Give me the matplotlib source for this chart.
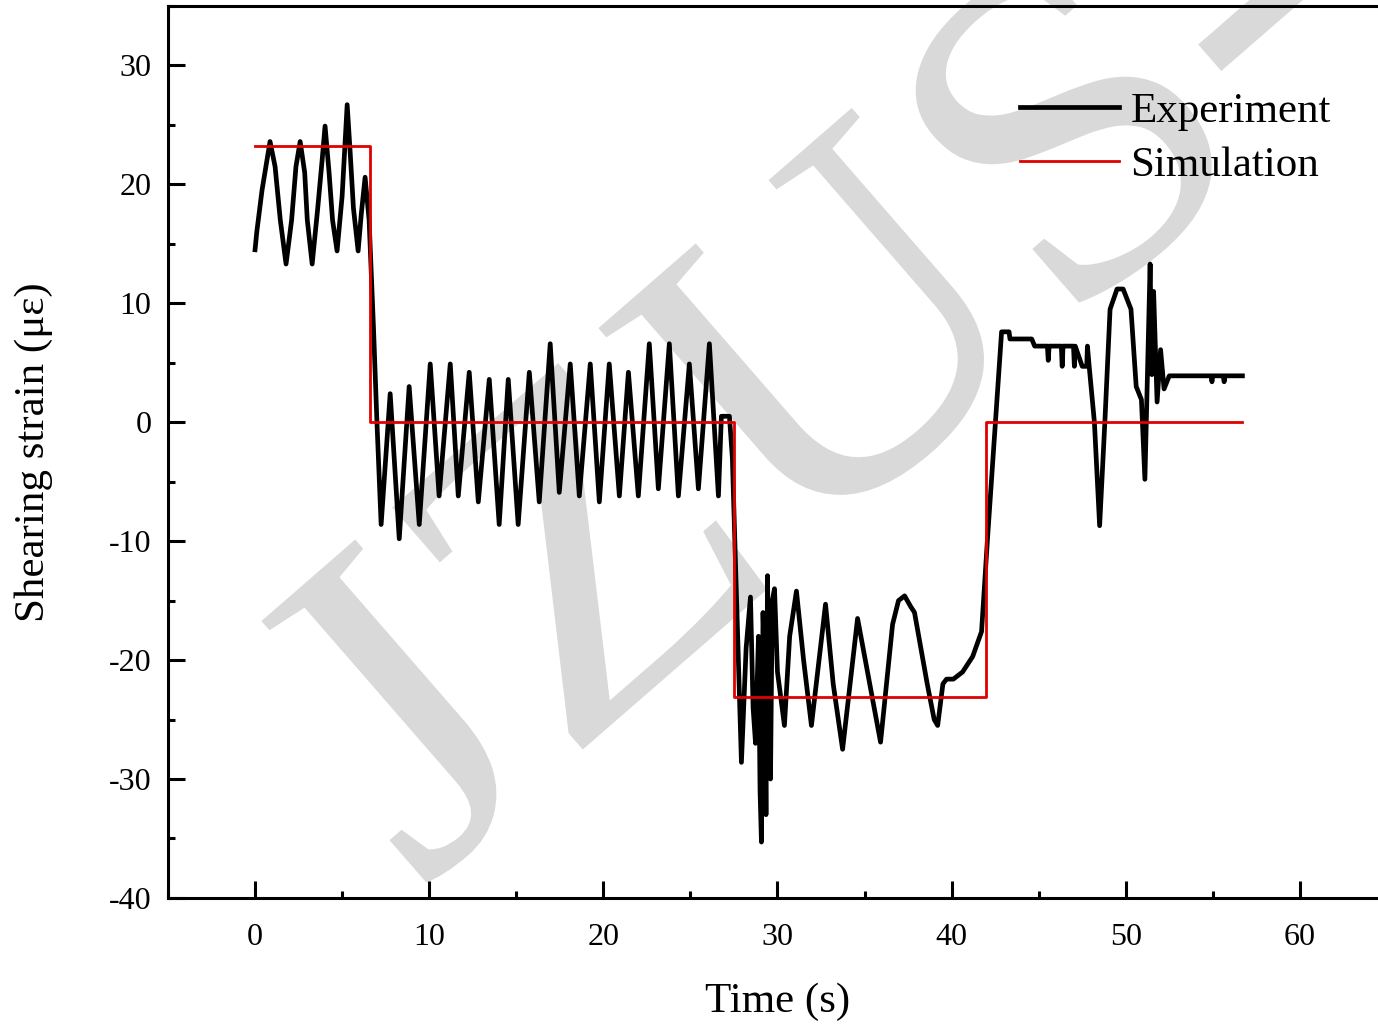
import numpy as np
import matplotlib
matplotlib.use('Agg')
import matplotlib.pyplot as plt
from matplotlib.ticker import MultipleLocator
from matplotlib.textpath import TextPath
from matplotlib.patches import PathPatch
from matplotlib.font_manager import FontProperties
from matplotlib.transforms import Affine2D

plt.rcParams['font.family'] = ['Liberation Serif', 'DejaVu Serif']
plt.rcParams['axes.unicode_minus'] = False

# Experiment (peaks and troughs)
t_exp = [0.0, 0.1, 0.4, 0.86, 1.15, 1.45, 1.78, 2.1, 2.35, 2.59, 2.85, 3.0, 3.28, 3.6, 3.85, 4.02,
         4.25, 4.45, 4.71, 5.0, 5.15, 5.29, 5.45, 5.65, 5.92, 6.1, 6.32, 6.55, 6.8, 7.0,
         7.24, 7.76, 8.28, 8.85, 9.43, 10.06, 10.57, 11.21, 11.67, 12.30, 12.82, 13.45, 14.02,
         14.54, 15.11, 15.75, 16.32, 16.95, 17.47, 18.10, 18.62, 19.25, 19.77, 20.34, 20.92,
         21.44, 22.01, 22.64, 23.16, 23.79, 24.31, 24.94, 25.46, 26.09, 26.61, 26.78, 27.24, 27.41,
         27.93, 28.2, 28.45, 28.6, 28.74, 28.91, 29.0, 29.08, 29.17, 29.25, 29.34, 29.43, 29.52,
         29.60, 29.7, 29.83, 30.0, 30.40, 30.7, 31.09, 31.5, 31.95,
         32.76, 33.2, 33.74, 34.60, 35.30, 35.92, 36.61, 36.95, 37.30, 37.65, 37.87, 38.6, 39.0,
         39.20, 39.5, 39.71, 40.1, 40.63, 41.21, 41.72,
         42.07, 42.87, 43.3, 43.35, 44.6, 44.77, 45.5, 45.55, 45.6, 46.3, 46.35, 46.4, 47.0,
         47.05, 47.1, 47.5, 47.76, 47.8, 47.9, 48.2, 48.5, 48.8, 49.1, 49.5, 49.85, 50.3, 50.6,
         50.9, 51.1, 51.4, 51.5, 51.6, 51.8, 52.0, 52.2, 52.5, 54.9, 54.95, 55.0, 55.6, 55.65,
         55.7, 56.7]
v_exp = [14.5, 16.0, 19.5, 23.6, 21.5, 17.0, 13.3, 17.0, 21.5, 23.6, 21.0, 17.0, 13.3, 18.0, 22.0, 24.9,
         21.0, 17.0, 14.4, 19.0, 23.0, 26.7, 23.0, 18.0, 14.4, 17.5, 20.6, 17.0, 8.0, 0.0,
         -8.6, 2.4, -9.8, 3.0, -8.6, 4.9, -6.2, 4.9, -6.2, 4.2, -6.7, 3.6, -8.6,
         3.6, -8.6, 4.2, -6.7, 6.6, -5.9, 4.9, -6.2, 4.9, -6.7, 4.9, -6.2,
         4.2, -6.2, 6.6, -5.6, 6.6, -6.2, 4.9, -5.6, 6.6, -6.2, 0.5, 0.5, -3.0,
         -28.6, -19.0, -14.7, -24.0, -27.0, -18.0, -31.0, -35.3, -16.0, -20.0, -33.0, -12.9, -28.0,
         -30.0, -15.0, -14.0, -21.0, -25.5, -18.0, -14.2, -20.0, -25.5,
         -15.3, -22.0, -27.5, -16.5, -22.0, -26.9, -17.0, -15.0, -14.6, -15.5, -16.0, -22.0, -25.0,
         -25.5, -22.0, -21.6, -21.6, -21.0, -19.7, -17.6,
         -9.6, 7.6, 7.6, 7.0, 7.0, 6.4, 6.4, 5.2, 6.4, 6.4, 4.7, 6.4, 6.4,
         4.7, 6.4, 4.7, 4.7, 6.4, 4.7, 0.0, -8.7, 0.0, 9.5, 11.2, 11.2, 9.5, 3.0,
         1.9, -4.8, 13.3, 4.0, 11.0, 1.7, 6.1, 2.8, 3.9, 3.9, 3.4, 3.9, 3.9, 3.4,
         3.9, 3.9]

# Simulation (step levels)
t_sim = [0.0, 6.6, 6.6, 27.5, 27.5, 41.95, 41.95, 56.7]
v_sim = [23.2, 23.2, 0.0, 0.0, -23.1, -23.1, 0.0, 0.0]

fig = plt.figure(figsize=(13.78, 10.26), dpi=100)
ax = fig.add_axes([0.1219, 0.1248, 0.8846, 0.8694])

# watermark, a little wider than the plain font
wm = TextPath((0, 0), 'JZUS-A', size=470, prop=FontProperties(family='Liberation Serif'))
wm_tr = Affine2D().scale(1.05, 1.0).rotate_deg(41).translate(420, 135)
ax.add_patch(PathPatch(wm, transform=wm_tr, facecolor='#d9d9d9', edgecolor='none',
                       clip_on=False, zorder=0))

ax.plot(t_exp, v_exp, color='black', lw=3.4, label='Experiment', zorder=3)
ax.plot(t_sim, v_sim, color='#e00000', lw=2.0, label='Simulation', zorder=4)

ax.set_xlim(-5, 65)
ax.set_ylim(-40, 35)
ax.xaxis.set_major_locator(MultipleLocator(10))
ax.xaxis.set_minor_locator(MultipleLocator(5))
ax.yaxis.set_major_locator(MultipleLocator(10))
ax.yaxis.set_minor_locator(MultipleLocator(5))
ax.tick_params(which='both', direction='in', width=2.2, labelsize=23, pad=12)
ax.tick_params(axis='x', which='both', pad=18)
ax.tick_params(which='major', length=12)
ax.tick_params(which='minor', length=5)
for s in ax.spines.values():
    s.set_linewidth(2.2)

ax.set_xlabel('Time (s)', fontsize=31, labelpad=22)
ax.set_ylabel('Shearing strain (\u03bc\u03b5)', fontsize=31, labelpad=40)

ax.legend(loc='upper left', bbox_to_anchor=(0.699, 0.904), frameon=False, fontsize=31,
          handlelength=2.29, handletextpad=0.27, labelspacing=0.35, borderpad=0, borderaxespad=0)

fig.savefig('out.png', dpi=100)
